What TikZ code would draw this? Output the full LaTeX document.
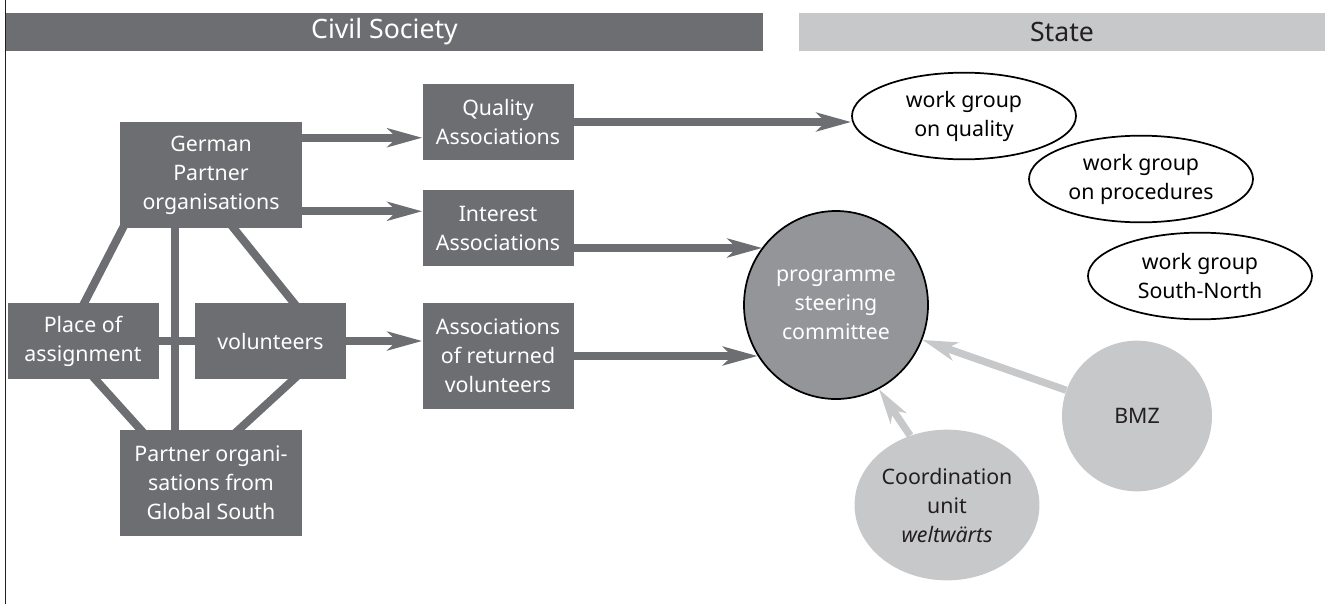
\documentclass[tikz,border=0pt]{standalone}
\usepackage{fontspec}
\setmainfont{Noto Sans}
\usetikzlibrary{arrows.meta,shapes.geometric,backgrounds}
\definecolor{dgray}{HTML}{6D6E71}
\definecolor{mgray}{HTML}{939598}
\definecolor{lgray}{HTML}{C7C8CA}
\definecolor{tblack}{HTML}{231F20}
\begin{document}
\begin{tikzpicture}[x=0.75pt,y=-0.75pt,
  font=\fontsize{16}{21.75}\selectfont,
  box/.style={rectangle, fill=dgray, text=white, inner sep=0pt, align=center,
    minimum width=113.25pt, minimum height=57pt},
  bigbox/.style={box, minimum width=136.5pt, minimum height=79.5pt},
  header/.style={rectangle, inner sep=0pt, minimum height=28.5pt,
    font=\fontsize{20}{24}\selectfont},
  wg/.style={ellipse, draw=black, line width=1.3pt, fill=white, text=black,
    inner sep=0pt, align=center, minimum width=168pt, minimum height=65pt},
  circ/.style={ellipse, fill=lgray, text=tblack, inner sep=0pt, align=center,
    minimum width=112.5pt, minimum height=113pt},
  link/.style={draw=dgray, line width=6pt, shorten <=-5pt, shorten >=-5pt},
  arr/.style={draw=dgray, line width=6pt,
    -{Stealth[length=26pt, width=14pt, inset=7pt]}},
  larr/.style={draw=lgray, line width=5.5pt,
    -{Stealth[length=26pt, width=14pt, inset=7pt]}}]
\useasboundingbox (0,0) rectangle (1325,604);

% left rule
\coordinate (ltop) at (5.5,0);
\coordinate (lbot) at (5.5,604);
\draw[line width=1.1pt, tblack] (ltop) -- (lbot);

% headers
\node[header, fill=dgray, text=white, minimum width=567.75pt] (civil) at (384.5,32) {Civil Society};
\node[header, fill=lgray, text=tblack, minimum width=394.5pt] (state) at (1062,32) {State};

% civil society boxes
\node[bigbox] (german) at (211,175) {German\\Partner\\organisations};
\node[box] (quality) at (498,122) {Quality\\Associations};
\node[box] (interest) at (498,228) {Interest\\Associations};
\node[box] (place) at (83,341) {Place of\\assignment};
\node[box] (vol) at (270.5,341) {volunteers};
\node[box, minimum height=79.5pt] (ret) at (498,356) {Associations\\of returned\\volunteers};
\node[bigbox] (south) at (211,483) {Partner organi-\\sations from\\Global South};

% state
\node[wg] (wgq) at (964,116) {work group\\on quality};
\node[wg] (wgp) at (1141,179) {work group\\on procedures};
\node[wg] (wgs) at (1200,276) {work group\\South-North};
\node[ellipse, draw=black, line width=1.3pt, fill=mgray, text=white, inner sep=0pt,
  align=center, minimum width=138pt, minimum height=141pt] (prog) at (836,305)
  {programme\\steering\\committee};
\node[circ] (bmz) at (1137,416) {BMZ};
\node[circ] (coord) at (947,505) {Coordination\\unit\\\textit{weltwärts}};

% links behind the boxes
\begin{pgfonlayer}{background}
\draw[link] ([xshift=2.25pt]german.south west) -- ([xshift=1pt]place.north);
\draw[link] ([xshift=41.25pt]german.south west) -- ([xshift=41.25pt]south.north west);
\draw[link] ([xshift=85.5pt]german.south west) -- ([xshift=74.25pt]vol.north west);
\draw[link] (place) -- (vol);
\draw[link] ([xshift=66pt]place.south west) -- ([xshift=15.75pt]south.north west);
\draw[link] ([xshift=74.25pt]vol.south west) -- ([xshift=89.25pt]south.north west);
\end{pgfonlayer}

% arrows
\path ([yshift=-12pt]german.north east) coordinate (g1);
\path ([yshift=12.75pt]german.south east) coordinate (g2);
\path ([yshift=-15pt]interest.east) coordinate (i1);
\draw[arr] (g1) -- (g1 -| quality.west);
\draw[arr] (g2) -- (g2 -| interest.west);
\draw[arr] (vol.east) -- (vol.east -| ret.west);
\draw[arr] (quality.east) -- (quality.east -| wgq.west);
\draw[arr] (i1) -- (i1 -| prog.142);
\draw[arr] (ret.east) -- (ret.east -| prog.213);
\draw[larr] (bmz.160) -- (prog.338);
\draw[larr] (coord.118) -- (prog.297);
\end{tikzpicture}
\end{document}
